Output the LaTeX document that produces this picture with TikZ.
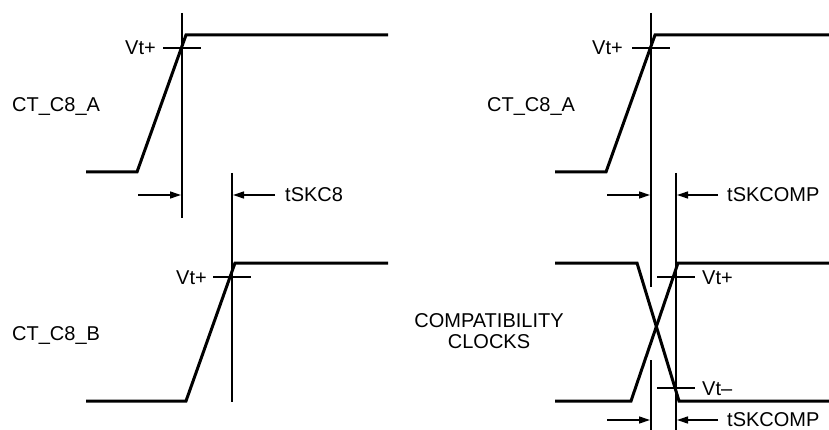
\documentclass[tikz,border=0pt]{standalone}
\usepackage{fontspec}
\setmainfont{Liberation Sans}
\usetikzlibrary{arrows.meta}
\begin{document}
\begin{tikzpicture}[x=1pt,y=-1pt,
  wave/.style={line width=3pt,line join=miter},
  thin/.style={line width=1.3pt},
  dimarrow/.style={line width=1.3pt,-{Triangle[length=11pt,width=7pt]}},
  lbl/.style={inner sep=0pt,font=\fontsize{20}{22}\selectfont},
]
\useasboundingbox (0,0) rectangle (829,430);
% ---------- left panel ----------
\coordinate (a0) at (86,172);
\coordinate (a1) at (137,172);
\coordinate (a2) at (186,35);
\coordinate (a3) at (388,35);
\draw[wave] (a0) -- (a1) -- (a2) -- (a3);
\coordinate (b0) at (86,401);
\coordinate (b1) at (186,401);
\coordinate (b2) at (235,263);
\coordinate (b3) at (388,263);
\draw[wave] (b0) -- (b1) -- (b2) -- (b3);
\coordinate (v1t) at (182,13); \coordinate (v1b) at (182,218);
\draw[thin] (v1t) -- (v1b);
\coordinate (v2t) at (232,173); \coordinate (v2b) at (232,402);
\draw[thin] (v2t) -- (v2b);
\coordinate (ta1) at (163,48); \coordinate (ta2) at (201,48);
\draw[thin] (ta1) -- (ta2);
\coordinate (tb1) at (213,277); \coordinate (tb2) at (251,277);
\draw[thin] (tb1) -- (tb2);
\coordinate (l1s) at (138,195); \coordinate (l1e) at (181,195);
\draw[dimarrow] (l1s) -- (l1e);
\coordinate (r1s) at (275,195); \coordinate (r1e) at (233,195);
\draw[dimarrow] (r1s) -- (r1e);
\node[lbl,anchor=base west] (nA) at (12,112) {CT\_C8\_A};
\node[lbl,anchor=base west] (nB) at (12,340) {CT\_C8\_B};
\node[lbl,anchor=base east] (vA) at (156,55) {Vt+};
\node[lbl,anchor=base east] (vB) at (207,284) {Vt+};
\node[lbl,anchor=base west] (sk1) at (285,202) {tSKC8};
% ---------- right panel ----------
\coordinate (c0) at (555,172);
\coordinate (c1) at (606,172);
\coordinate (c2) at (655,35);
\coordinate (c3) at (829,35);
\draw[wave] (c0) -- (c1) -- (c2) -- (c3);
% falling
\coordinate (d0) at (555,263);
\coordinate (d1) at (637,263);
\coordinate (d2) at (679,401);
\coordinate (d3) at (829,401);
\draw[wave] (d0) -- (d1) -- (d2) -- (d3);
% rising
\coordinate (e0) at (555,401);
\coordinate (e1) at (631,401);
\coordinate (e2) at (678,263);
\coordinate (e3) at (829,263);
\draw[wave] (e0) -- (e1) -- (e2) -- (e3);
\coordinate (w1t) at (651,13); \coordinate (w1m) at (651,287);
\coordinate (w1n) at (651,360); \coordinate (w1b) at (651,430);
\draw[thin] (w1t) -- (w1m);
\draw[thin] (w1n) -- (w1b);
\coordinate (w2t) at (676,173); \coordinate (w2b) at (676,430);
\draw[thin] (w2t) -- (w2b);
\coordinate (tc1) at (632,48); \coordinate (tc2) at (670,48);
\draw[thin] (tc1) -- (tc2);
\coordinate (td1) at (657,277); \coordinate (td2) at (695,277);
\draw[thin] (td1) -- (td2);
\coordinate (te1) at (657,388); \coordinate (te2) at (695,388);
\draw[thin] (te1) -- (te2);
\coordinate (l2s) at (607,195); \coordinate (l2e) at (650,195);
\draw[dimarrow] (l2s) -- (l2e);
\coordinate (r2s) at (718,195); \coordinate (r2e) at (677,195);
\draw[dimarrow] (r2s) -- (r2e);
\coordinate (l3s) at (607,420); \coordinate (l3e) at (650,420);
\draw[dimarrow] (l3s) -- (l3e);
\coordinate (r3s) at (718,420); \coordinate (r3e) at (677,420);
\draw[dimarrow] (r3s) -- (r3e);
\node[lbl,anchor=base west] (nC) at (487,112) {CT\_C8\_A};
\node[lbl,anchor=base east] (vC) at (623,55) {Vt+};
\node[lbl,anchor=base west] (sk2) at (727,202) {tSKCOMP};
\node[lbl,anchor=base] (cc1) at (489,327) {COMPATIBILITY};
\node[lbl,anchor=base] (cc2) at (489,348) {CLOCKS};
\node[lbl,anchor=base west] (vD) at (702,284) {Vt+};
\node[lbl,anchor=base west] (vE) at (702,395) {Vt–};
\node[lbl,anchor=base west] (sk3) at (727,426) {tSKCOMP};
\end{tikzpicture}
\end{document}
